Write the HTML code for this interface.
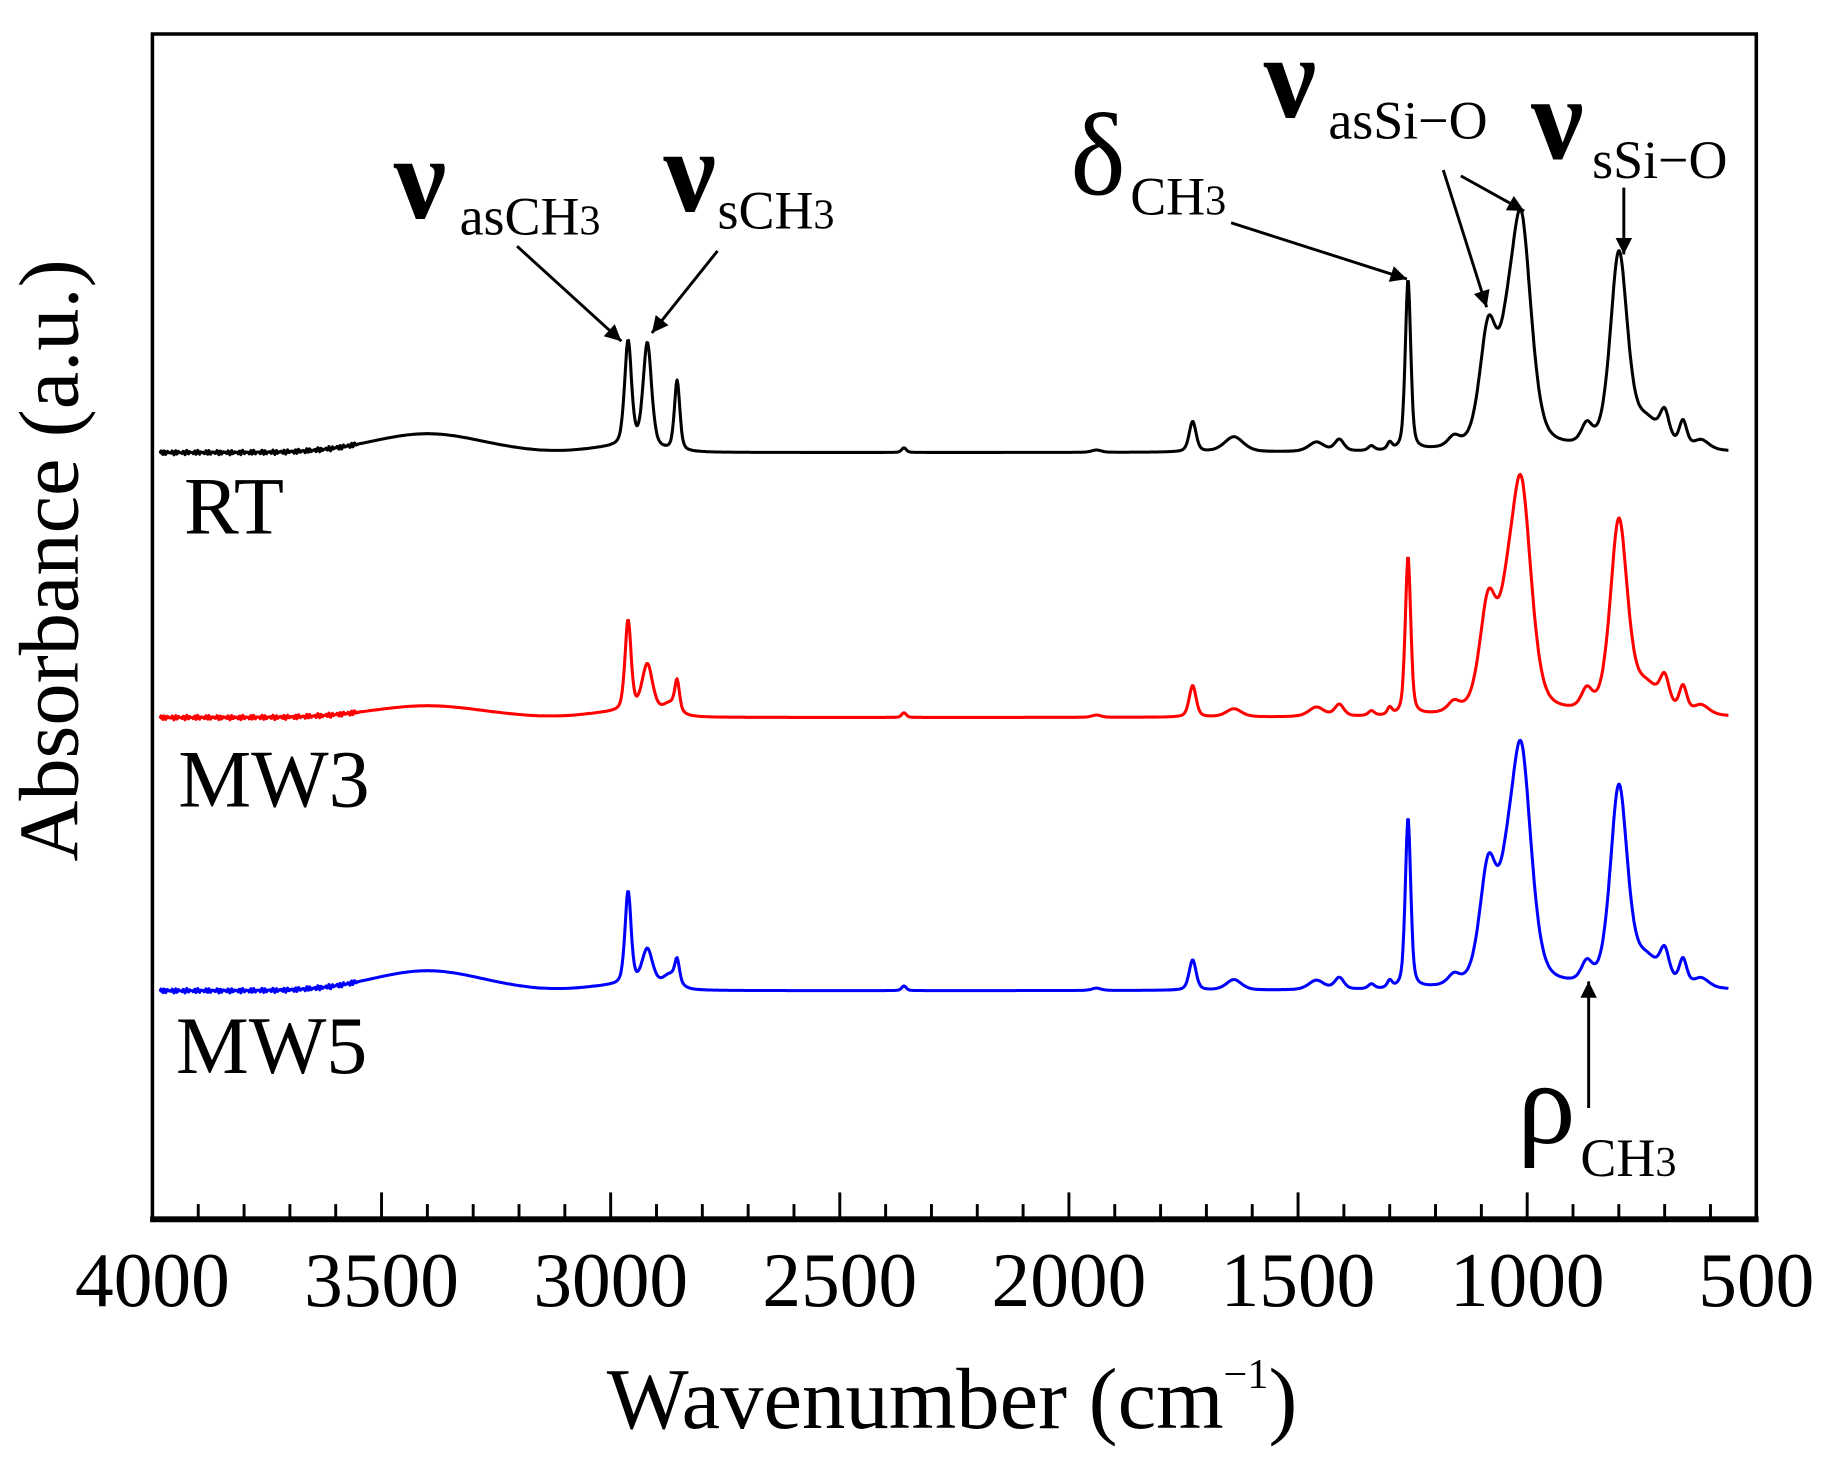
<!DOCTYPE html>
<html><head><meta charset="utf-8"><style>
html,body{margin:0;padding:0;background:#fff;}
svg{display:block;}
text{font-family:"Liberation Serif",serif;fill:#000;}
</style></head><body>
<svg id="s" width="1829" height="1465" viewBox="0 0 1560 1249.5" preserveAspectRatio="none" xmlns="http://www.w3.org/2000/svg">
<defs>
<marker id="ah2" viewBox="0 0 10 10" refX="10" refY="5" markerWidth="22" markerHeight="14" markerUnits="userSpaceOnUse" orient="auto"><path d="M0,0 L10,5 L0,10 z" fill="#000"/></marker></defs>
<g id="ticks"></g>
<rect x="130" y="29" width="1368" height="1010" fill="none" stroke="#000" stroke-width="3"/>
<line x1="128" y1="1040" x2="1500" y2="1040" stroke="#000" stroke-width="5"/>
<g id="sp"></g>
<g font-size="66" text-anchor="middle">
<text x="130" y="1114">4000</text><text x="325.4" y="1114">3500</text><text x="520.9" y="1114">3000</text><text x="716.3" y="1114">2500</text><text x="911.7" y="1114">2000</text><text x="1107.1" y="1114">1500</text><text x="1302.6" y="1114">1000</text><text x="1498" y="1114">500</text>
</g>
<text x="812" y="1218" font-size="74" text-anchor="middle">Wavenumber (cm<tspan font-size="36" dy="-34">−1</tspan><tspan dy="34">)</tspan></text>
<text transform="translate(66,478) rotate(-90)" font-size="72" text-anchor="middle">Absorbance (a.u.)</text>
<text x="157" y="455" font-size="70">RT</text>
<text x="152" y="688" font-size="70">MW3</text>
<text x="150" y="915" font-size="70">MW5</text>
<g font-weight="bold">
<text x="336" y="186" font-size="100">ν</text>
<text x="566" y="180" font-size="100">ν</text>
<text x="1078" y="100" font-size="100">ν</text>
<text x="1306" y="135" font-size="100">ν</text>
</g>
<text x="913" y="166" font-size="100">δ</text>
<text x="1294" y="975" font-size="100">ρ</text>
<g font-size="46">
<text x="392" y="200">asCH<tspan font-size="36">3</tspan></text>
<text x="612" y="195">sCH<tspan font-size="36">3</tspan></text>
<text x="964" y="183">CH<tspan font-size="36">3</tspan></text>
<text x="1133" y="118">asSi−O</text>
<text x="1358" y="152">sSi−O</text>
<text x="1348" y="1003">CH<tspan font-size="36">3</tspan></text>
</g>
<g stroke="#000" stroke-width="2.5" marker-end="url(#ah2)">
<line x1="441" y1="210" x2="530" y2="291"/>
<line x1="612" y1="214" x2="556" y2="284"/>
<line x1="1050" y1="190" x2="1200" y2="238"/>
<line x1="1231" y1="145" x2="1268" y2="262"/>
<line x1="1246" y1="150" x2="1300" y2="180"/>
<line x1="1385" y1="160" x2="1385" y2="217"/>
<line x1="1355" y1="945" x2="1355" y2="837"/>
</g>
</svg>
<script>
function X(w){return 130+(4000-w)/3500*1368;}
var t=document.getElementById('ticks'),h='';
for(var w=500;w<=4000;w+=100){var x=X(w);var L=(w%500==0)?23:13;h+='<line x1="'+x+'" y1="1040" x2="'+x+'" y2="'+(1040-L)+'" stroke="#000" stroke-width="2.5"/>';}
t.innerHTML=h;
function pv(w,c,g,hh){var d=(w-c)/g;return hh*(0.55*Math.exp(-0.693*d*d)+0.45/(1+d*d));}
function spec(base,P,hump){
 var pts=[];
 for(var w=3985;w>=560;w-=2){
  var y=hump*Math.exp(-Math.pow((w-3400)/170,2));
  for(var i=0;i<P.length;i++)y+=pv(w,P[i][0],P[i][1],P[i][2]);
  if(w>3550)y+=2*Math.sin(w*0.9)*Math.sin(w*0.13);
  if(w<3150&&w>2790)y+=4*Math.exp(-Math.pow((w-2990)/90,2));
  pts.push(X(w).toFixed(1)+','+(base-y).toFixed(1));
 }
 return pts.join(' ');
}
var common=[[2360,6,4],[1940,12,2],[1460,20,8],[1410,12,10],[1340,8,4],[1300,6,6],[1160,15,8],[870,14,16],[700,12,24],[660,10,22],[620,20,8],[740,35,22]];
var S=[
 [386,'#000',16,[[2962,9,90],[2920,11,90],[2855,7,60],[1730,9,26],[1640,25,13],[1260,7,146],[1085,22,97],[1045,22,50],[1013,26,188],[800,22,166]]],
 [612,'#ff0000',10,[[2962,8,78],[2920,14,42],[2870,20,10],[2855,6,25],[1730,9,27],[1640,20,7],[1260,7,136],[1085,22,90],[1045,22,50],[1013,26,188],[800,22,164]]],
 [845,'#0000ff',17,[[2962,8,80],[2920,14,32],[2870,20,12],[2855,6,19],[1730,9,26],[1640,20,9],[1260,7,146],[1085,22,97],[1045,22,50],[1013,26,194],[800,22,170]]]
];
var g=document.getElementById('sp'),out='';
S.forEach(function(s){out+='<polyline fill="none" stroke="'+s[1]+'" stroke-width="2.6" stroke-linejoin="round" points="'+spec(s[0],s[3].concat(common),s[2])+'"/>';});
g.innerHTML=out;
</script>
</body></html>
